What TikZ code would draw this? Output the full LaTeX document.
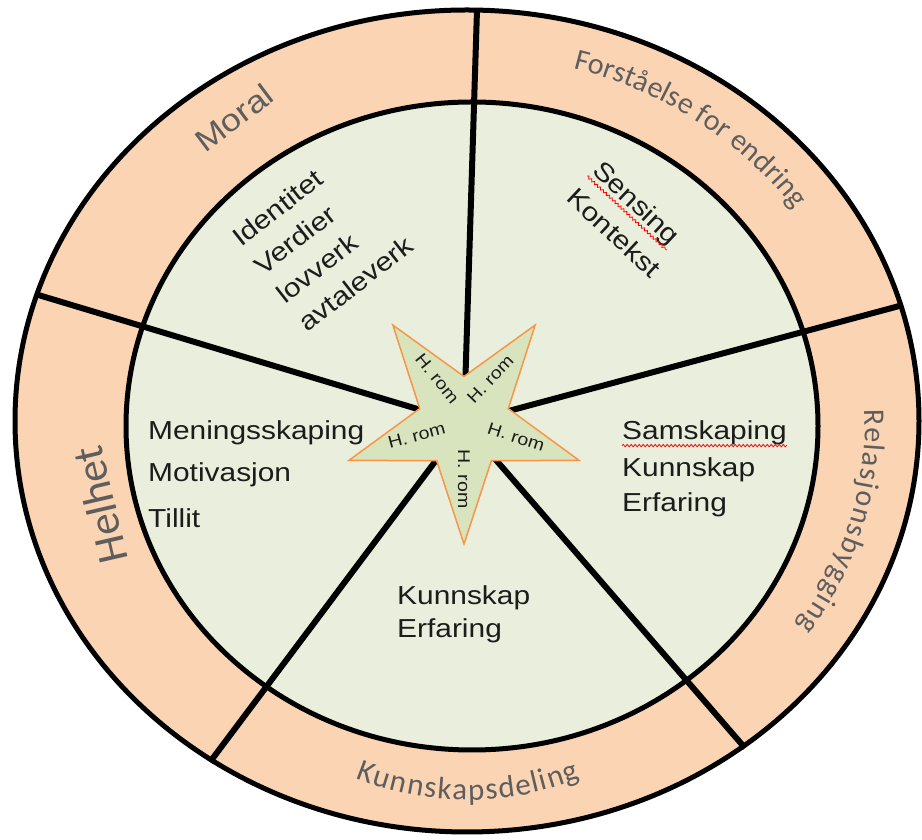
\documentclass[tikz,border=0pt]{standalone}
\usepackage{fontspec}
\setmainfont{Liberation Sans}
\newfontfamily\wordfont[FakeStretch=1.15]{Liberation Sans}
\newfontfamily\ringfont{Carlito}
\usepackage{xcolor}
\usetikzlibrary{shapes.geometric,decorations.text,decorations.pathmorphing}

\definecolor{ringfill}{HTML}{FBD4B4}
\definecolor{corefill}{HTML}{EAEEDC}
\definecolor{starfill}{HTML}{D7E4BD}
\definecolor{starline}{HTML}{F79646}
\definecolor{ringtxt}{HTML}{5E5E5E}
\definecolor{bodytxt}{HTML}{1C1C1C}

\begin{document}
\begin{tikzpicture}[x=1pt, y=1pt,
    border/.style={draw=black, line width=5pt},
    spoke/.style={draw=black, line width=6pt},
    body/.style={font=\wordfont\fontsize{26}{30}\selectfont, text=bodytxt, inner sep=0pt, anchor=base west},
    hrom/.style={font=\wordfont\fontsize{17}{19}\selectfont, text=bodytxt, inner sep=0pt},
    spell/.style={draw=red, line width=0.8pt, decorate, decoration={snake, amplitude=1.2pt, segment length=4pt}}]
    \useasboundingbox (0,0) rectangle (922,840);

    % band and field
    \fill[ringfill] (467,419) ellipse [x radius=452pt, y radius=411pt];
    \fill[corefill] (472,414) ellipse [x radius=346pt, y radius=324pt];

    % spokes
    \coordinate (mid) at (464,417);
    \coordinate (topend) at (477,830);
    \coordinate (ulend) at (35,546);
    \coordinate (urend) at (903,535);
    \coordinate (lrend) at (745,92);
    \coordinate (llend) at (210,78);
    \foreach \e in {topend,ulend,urend,lrend,llend}
      \draw[spoke] (mid) -- (\e);

    \draw[border] (467,419) ellipse [x radius=452pt, y radius=411pt];
    \draw[border] (472,414) ellipse [x radius=346pt, y radius=324pt];

    % ring labels
    \node[font=\wordfont\fontsize{31}{34}\selectfont, text=ringtxt, rotate=37] (moral) at (234,722) {Moral};
    \node[font=\ringfont\fontsize{44}{46}\selectfont, text=ringtxt, rotate=103] (helhet) at (100,335) {Helhet};
    \path[decorate, decoration={text along path, text align=fit to path,
        text={|\ringfont\fontsize{30}{30}\selectfont\color{ringtxt}|Forståelse for endring}}]
      (470,418) ++(75:398pt and 366pt) arc[start angle=75, end angle=36, x radius=398pt, y radius=366pt];
    \path[decorate, decoration={text along path, text align=fit to path,
        text={|\ringfont\fontsize{30}{30}\selectfont\color{ringtxt}|Relasjonsbygging}}]
      (470,418) ++(2:395pt and 365pt) arc[start angle=2, end angle=-34, x radius=395pt, y radius=365pt];
    \path[decorate, decoration={text along path, text align=fit to path,
        text={|\ringfont\fontsize{31}{31}\selectfont\color{ringtxt}|Kunnskapsdeling}}]
      (468,340) ++(248:300pt) arc[start angle=248, end angle=292, radius=300pt];

    % field texts
    \begin{scope}[shift={(241,592)}, rotate=38, transform shape]
      \node[body] (ident) at (0,0) {Identitet};
      \node[body] (verdi) at (0,-36) {Verdier};
      \node[body] (lov) at (0,-72) {lovverk};
      \node[body] (avtale) at (0,-108) {avtaleverk};
    \end{scope}

    \begin{scope}[shift={(591,668)}, rotate=-43, transform shape]
      \node[body] (sensing) at (0,0) {Sensing};
      \node[body] (kontekst) at (0,-38) {Kontekst};
      \draw[spell] (sensing.south west) -- (sensing.south east);
    \end{scope}

    \node[body] (mening) at (148,400) {Meningsskaping};
    \node[body] (motiv) at (148,358) {Motivasjon};
    \node[body] (tillit) at (148,312) {Tillit};

    \node[body] (samskap) at (622,400) {Samskaping};
    \node[body] (kunnR) at (622,363) {Kunnskap};
    \node[body] (erfR) at (622,328) {Erfaring};
    \draw[spell] (samskap.south west) -- (samskap.south east);

    \node[body] (kunnB) at (397,235) {Kunnskap};
    \node[body] (erfB) at (397,202) {Erfaring};

    % star in the middle
    \node[star, star points=5, star point ratio=2.6, minimum size=242pt, inner sep=0pt,
      shape border rotate=180, fill=starfill, draw=starline, line width=1.5pt] (hub) at (mid) {};
    \node[hrom, rotate=-51] (hrUL) at ([shift={(121:52)}]hub.center) {H. rom};
    \node[hrom, rotate=46] (hrUR) at ([shift={(59:51)}]hub.center) {H. rom};
    \node[hrom, rotate=-18] (hrR) at ([shift={(-15:54)}]hub.center) {H. rom};
    \node[hrom, rotate=15] (hrL) at ([shift={(195:49)}]hub.center) {H. rom};
    \node[hrom, rotate=-90] (hrB) at ([shift={(270:56)}]hub.center) {H. rom};
\end{tikzpicture}
\end{document}
